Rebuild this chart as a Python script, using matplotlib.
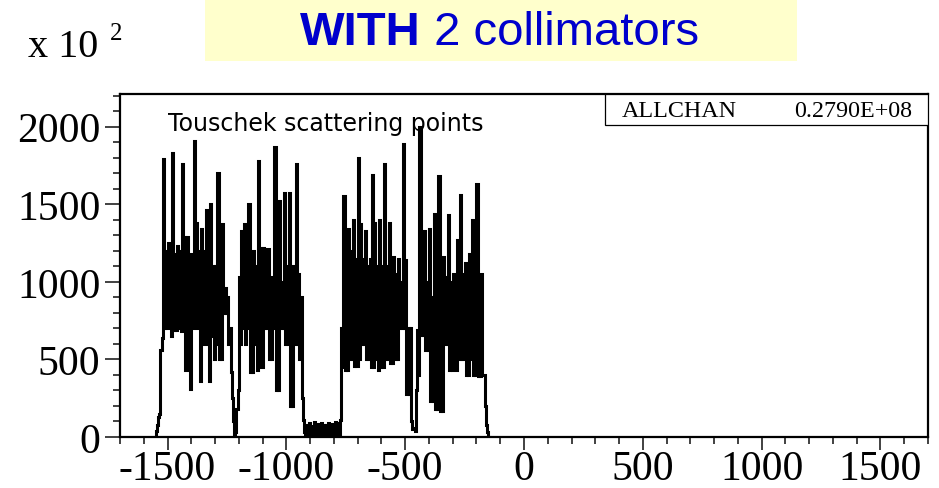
# -*- coding: utf-8 -*-
import numpy as np
import matplotlib
matplotlib.use("Agg")
import matplotlib.pyplot as plt
from matplotlib.patches import Rectangle
from matplotlib.ticker import MultipleLocator

# histogram: bin edges start / width, contents in units of 10^2
bin_start = -1560
bin_width = 5
counts = [
    0, 0, 40, 80, 130, 150, 560, 640, 1790, 700,
    1200, 700, 1250, 720, 1200, 650, 1830, 690, 1180, 690,
    1230, 700, 1200, 680, 1760, 700, 1290, 430, 1290, 800,
    1150, 310, 1180, 700, 1910, 800, 1380, 700, 1200, 360,
    1340, 700, 1200, 600, 1460, 700, 1150, 360, 1500, 650,
    1100, 500, 1100, 600, 1700, 500, 1000, 500, 1370, 800,
    960, 800, 900, 600, 700, 420, 250, 100, 10, 30,
    180, 300, 1030, 600, 1330, 700, 1370, 600, 1200, 700,
    1500, 420, 1000, 420, 1200, 600, 1100, 430, 1780, 500,
    1220, 450, 1220, 700, 1150, 700, 1210, 500, 1000, 500,
    1030, 700, 1870, 300, 900, 300, 1520, 700, 1000, 700,
    1570, 600, 1100, 600, 1570, 200, 900, 200, 1100, 600,
    1760, 600, 1050, 500, 900, 250, 110, 30, 10, 80,
    5, 90, 10, 70, 5, 95, 10, 80, 5, 85,
    10, 90, 5, 75, 10, 80, 5, 90, 10, 85,
    5, 80, 10, 95, 5, 90, 10, 110, 700, 450,
    1550, 430, 1150, 430, 1340, 500, 1200, 500, 1400, 460,
    1150, 460, 1800, 500, 1370, 600, 1150, 600, 1330, 500,
    1100, 500, 1150, 450, 1690, 450, 1380, 500, 1100, 430,
    1400, 450, 1100, 450, 1760, 500, 1100, 500, 1380, 480,
    1000, 480, 1160, 500, 1050, 500, 1150, 700, 1000, 700,
    1890, 700, 1140, 280, 700, 280, 700, 100, 50, 60,
    40, 300, 690, 400, 2000, 660, 1000, 660, 1330, 560,
    1000, 560, 1340, 230, 900, 230, 1440, 180, 900, 180,
    1680, 170, 900, 170, 1160, 600, 1030, 600, 1430, 430,
    1000, 430, 1050, 600, 1000, 430, 1270, 500, 1560, 500,
    1050, 500, 1120, 400, 1000, 400, 1180, 500, 1400, 400,
    1000, 400, 1630, 390, 1000, 390, 1050, 400, 400, 200,
    80, 30, 0, 0,
]
x_ticks = [-1500, -1000, -500, 0, 500, 1000, 1500]
y_ticks = [0, 500, 1000, 1500, 2000]
stat_name = "ALLCHAN"
stat_value = "0.2790E+08"
title_bold = "WITH"
title_rest = " 2 collimators"
plot_label = "Touschek scattering points"


def main():
    plt.rcParams['axes.unicode_minus'] = False
    serif = ['Liberation Serif', 'DejaVu Serif']
    sans = ['Liberation Sans', 'DejaVu Sans']

    fig = plt.figure(figsize=(9.39, 4.89), dpi=100)
    ax = fig.add_axes([0.1278, 0.1043, 0.8605, 0.7014])

    # histogram outline, fine bins -> looks filled
    edges = bin_start + bin_width * np.arange(len(counts) + 1)
    ax.stairs(counts, edges, color='black', linewidth=2.2)

    ax.set_xlim(-1700, 1700)
    ax.set_ylim(0, 2210)
    ax.set_xticks(x_ticks)
    ax.set_yticks(y_ticks)
    ax.xaxis.set_minor_locator(MultipleLocator(100))
    ax.yaxis.set_minor_locator(MultipleLocator(100))
    ax.tick_params(which='both', direction='out', width=1.3, color='#333333')
    ax.tick_params(axis='y', which='major', length=10.5, pad=3.5)
    ax.tick_params(axis='y', which='minor', length=5)
    ax.tick_params(axis='x', which='major', length=9, pad=0)
    ax.tick_params(axis='x', which='minor', length=5)
    for lab in ax.get_xticklabels() + ax.get_yticklabels():
        lab.set_fontfamily(serif)
        lab.set_fontsize(30)
    for sp in ax.spines.values():
        sp.set_linewidth(1.6)

    ax.text(0.060, 0.916, plot_label, transform=ax.transAxes,
            fontsize=17, family=['DejaVu Sans'], va='center', ha='left')

    # stat box top right
    ax.add_patch(Rectangle((0.6002, 0.9096), 0.3998, 0.0904, transform=ax.transAxes,
                           facecolor='white', edgecolor='black', linewidth=0.9, zorder=5))
    ax.text(0.6213, 0.952, stat_name, transform=ax.transAxes, fontsize=17.3,
            family=serif, va='center', ha='left', zorder=6)
    ax.text(0.9802, 0.952, stat_value, transform=ax.transAxes, fontsize=17.3,
            family=serif, va='center', ha='right', zorder=6)

    # x 10^2 multiplier
    fig.text(28 / 939, 1 - 57 / 489, "x 10", fontsize=29, family=serif,
             ha='left', va='baseline')
    fig.text(110 / 939, 1 - 40 / 489, "2", fontsize=18, family=serif,
             ha='left', va='baseline')

    # yellow title box
    fig.patches.append(Rectangle((205 / 939, 1 - 62 / 489), 592 / 939, 62 / 489,
                                 transform=fig.transFigure, facecolor='#ffffcc',
                                 edgecolor='none', zorder=0))
    y_base = 1 - 45 / 489
    t1 = fig.text(300 / 939, y_base, title_bold, fontsize=34, fontweight='bold',
                  family=sans, color='#0000cc', ha='left', va='baseline')
    fig.canvas.draw()
    bb = t1.get_window_extent()
    fig.text(bb.x1 / fig.bbox.width, y_base, title_rest, fontsize=34,
             family=sans, color='#0000cc', ha='left', va='baseline')

    fig.savefig('out.png', dpi=100)


if __name__ == '__main__':
    main()
